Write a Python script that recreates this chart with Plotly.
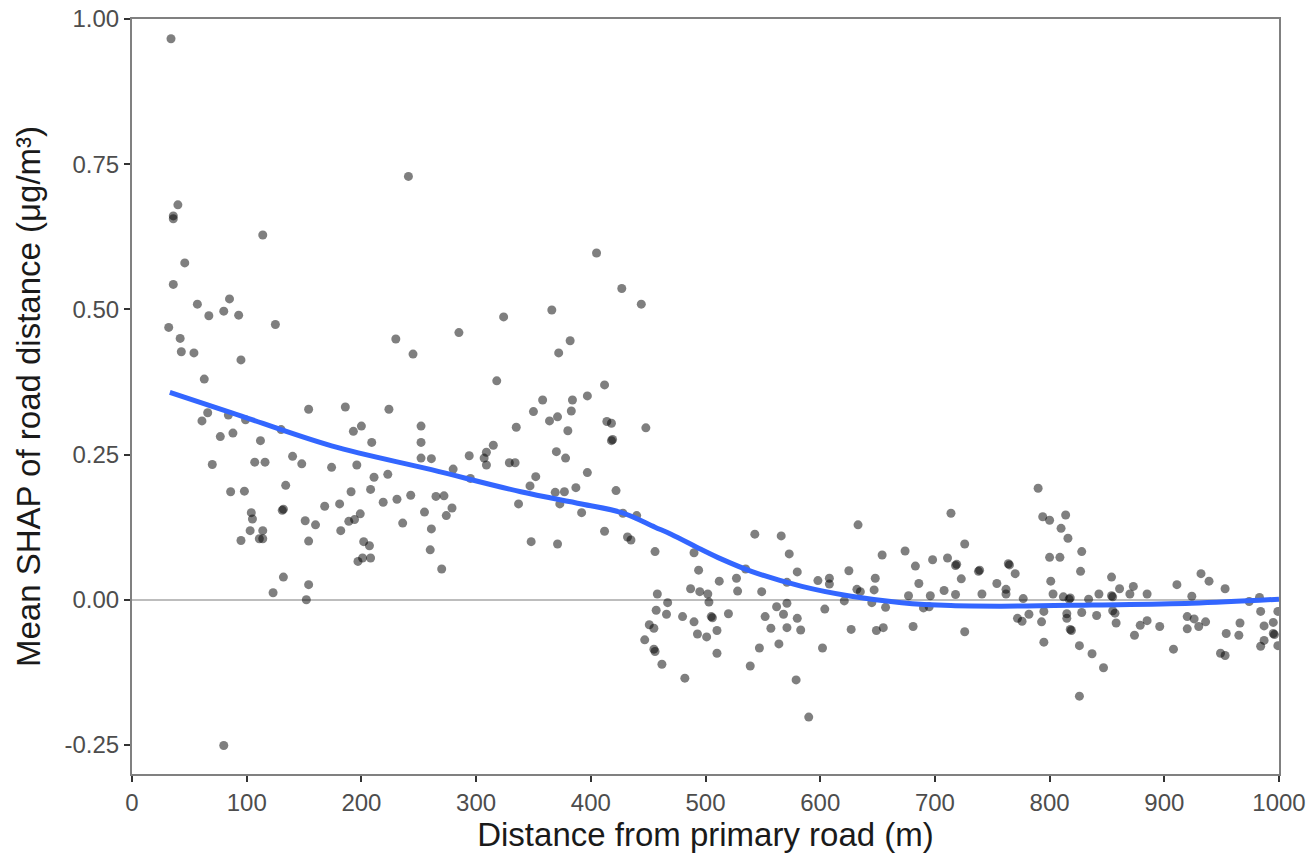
import plotly.graph_objects as go

# Scatter points: distance from primary road (m) and mean SHAP (µg/m³)
distance_m = [
    34, 241, 40, 36, 36, 114, 46, 36, 57, 85, 67, 80, 93, 32, 125, 42, 230, 43, 54, 95,
    245, 63, 66, 61, 84, 99, 154, 186, 224, 77, 88, 112, 130, 193, 200, 209, 252, 252, 252, 261,
    70, 107, 116, 140, 148, 174, 196, 211, 223, 134, 86, 98, 191, 208, 219, 231, 243, 168, 181, 131,
    132, 104, 105, 255, 151, 160, 199, 194, 189, 236, 261, 103, 114, 95, 111, 114, 154, 182, 202, 207,
    208, 197, 201, 260, 132, 123, 154, 152, 80,
    405, 427, 444, 366, 324, 285, 382, 372, 318, 412, 358, 384, 397, 350, 383, 364, 371, 414, 418, 418,
    419, 448, 335, 380, 315, 294, 307, 309, 309, 329, 334, 370, 378, 280, 295, 352, 347, 397, 387, 369,
    377, 373, 422, 265, 272, 279, 274, 337, 392, 428, 440, 412, 432, 435, 348, 371, 456, 490, 270,
    494, 512, 487, 495, 502, 503, 505, 506, 510, 510, 458, 467, 457, 466, 480, 490, 493, 501, 451, 455,
    447, 455, 456, 462, 482,
    527, 528, 520, 543, 566, 573, 535, 580, 549, 571, 562, 571, 552, 568, 580, 557, 571, 583, 547, 564,
    539, 579, 590, 598, 608, 608, 604, 602, 621, 625, 633, 632, 635, 627, 645, 647, 648, 654, 657, 649,
    655, 674, 683, 686, 677, 681, 690, 696, 695, 698, 714, 711, 718, 719, 708, 718, 723, 726, 726, 738,
    739, 741, 754,
    790, 794, 800, 814, 810, 816, 828, 800, 809, 827, 764, 765, 770, 762, 762, 777, 801, 803, 812, 817,
    818, 834, 843, 854, 854, 855, 861, 873, 870, 885, 911, 924, 932, 939, 953, 983, 974, 772, 776, 782,
    795, 793, 795, 815, 815, 818, 819, 828, 841, 826, 837, 847, 826, 855, 857, 858, 874, 879, 885, 896,
    908, 920, 926, 920, 930, 936, 949, 953, 954, 966, 965, 984, 984, 987, 987, 995, 995, 996, 999, 999,
]
mean_shap = [
    0.966, 0.729, 0.680, 0.661, 0.656, 0.628, 0.580, 0.543, 0.509, 0.518, 0.489, 0.497, 0.490, 0.469, 0.474, 0.450, 0.449, 0.427, 0.425, 0.413,
    0.423, 0.380, 0.322, 0.308, 0.318, 0.310, 0.328, 0.332, 0.328, 0.281, 0.287, 0.274, 0.293, 0.290, 0.299, 0.271, 0.299, 0.271, 0.244, 0.243,
    0.233, 0.237, 0.237, 0.247, 0.234, 0.228, 0.232, 0.211, 0.216, 0.197, 0.186, 0.187, 0.186, 0.190, 0.168, 0.173, 0.180, 0.161, 0.165, 0.154,
    0.156, 0.150, 0.139, 0.151, 0.136, 0.129, 0.148, 0.138, 0.135, 0.132, 0.122, 0.119, 0.119, 0.102, 0.105, 0.105, 0.101, 0.119, 0.100, 0.093,
    0.072, 0.066, 0.072, 0.086, 0.039, 0.012, 0.026, 0.000, -0.251,
    0.597, 0.536, 0.509, 0.499, 0.487, 0.460, 0.446, 0.425, 0.377, 0.370, 0.344, 0.344, 0.351, 0.324, 0.325, 0.308, 0.315, 0.307, 0.304, 0.274,
    0.276, 0.296, 0.297, 0.291, 0.266, 0.248, 0.244, 0.254, 0.232, 0.236, 0.236, 0.255, 0.244, 0.225, 0.209, 0.212, 0.196, 0.219, 0.193, 0.185,
    0.186, 0.165, 0.188, 0.178, 0.179, 0.158, 0.145, 0.165, 0.150, 0.149, 0.145, 0.118, 0.108, 0.103, 0.100, 0.096, 0.083, 0.081, 0.053,
    0.051, 0.032, 0.019, 0.014, 0.010, -0.004, -0.029, -0.031, -0.053, -0.092, 0.010, -0.005, -0.018, -0.025, -0.029, -0.038, -0.059, -0.064, -0.043, -0.049,
    -0.069, -0.085, -0.089, -0.111, -0.135,
    0.037, 0.015, -0.024, 0.113, 0.110, 0.079, 0.053, 0.048, 0.014, 0.030, -0.012, -0.006, -0.029, -0.025, -0.032, -0.049, -0.048, -0.052, -0.083, -0.076,
    -0.114, -0.138, -0.202, 0.033, 0.037, 0.027, -0.016, -0.083, -0.002, 0.050, 0.129, 0.018, 0.014, -0.051, -0.005, 0.017, 0.037, 0.077, -0.013, -0.053,
    -0.048, 0.084, 0.058, 0.028, 0.007, -0.046, -0.014, 0.007, -0.012, 0.069, 0.149, 0.072, 0.059, 0.061, 0.016, 0.009, 0.036, 0.096, -0.055, 0.049,
    0.051, 0.010, 0.028,
    0.192, 0.143, 0.137, 0.146, 0.123, 0.106, 0.083, 0.073, 0.073, 0.049, 0.062, 0.060, 0.045, 0.018, 0.010, 0.002, 0.032, 0.010, 0.005, 0.001,
    0.003, 0.001, 0.010, 0.039, 0.007, 0.005, 0.019, 0.023, 0.010, 0.010, 0.026, 0.006, 0.045, 0.032, 0.019, 0.004, -0.003, -0.032, -0.037, -0.025,
    -0.020, -0.038, -0.073, -0.024, -0.032, -0.051, -0.053, -0.022, -0.027, -0.079, -0.093, -0.117, -0.166, -0.019, -0.023, -0.040, -0.061, -0.044, -0.036, -0.046,
    -0.085, -0.029, -0.033, -0.050, -0.046, -0.038, -0.092, -0.096, -0.058, -0.040, -0.061, -0.020, -0.080, -0.045, -0.070, -0.039, -0.058, -0.060, -0.020, -0.079,
]

# Smoothed trend
trend_x = [33, 87, 174, 261, 339, 392, 427, 456, 470, 496, 514, 540, 584, 627, 671, 714, 758, 837, 924, 1000]
trend_y = [0.357, 0.322, 0.265, 0.224, 0.186, 0.165, 0.150, 0.125, 0.113, 0.087, 0.070, 0.049, 0.023, 0.006, -0.005, -0.010, -0.011, -0.009, -0.006, 0.001]

x_ticks = [0, 100, 200, 300, 400, 500, 600, 700, 800, 900, 1000]
y_ticks = [-0.25, 0.00, 0.25, 0.50, 0.75, 1.00]

FONT = "Liberation Sans, Arial, Helvetica, sans-serif"

fig = go.Figure()
fig.add_trace(go.Scatter(
    x=distance_m, y=mean_shap, mode="markers",
    marker=dict(size=9, color="rgba(0,0,0,0.5)", line=dict(width=0)),
    showlegend=False, hoverinfo="x+y",
))
fig.add_trace(go.Scatter(
    x=trend_x, y=trend_y, mode="lines",
    line=dict(color="#3366FF", width=5, shape="spline", smoothing=1.0),
    showlegend=False,
))

axis_common = dict(
    showgrid=False, automargin=False,
    showline=True, linecolor="#808080", linewidth=2, mirror=True,
    ticks="outside", ticklen=6, tickwidth=2, tickcolor="#333333",
    tickfont=dict(family=FONT, size=24, color="#4d4d4d"),
)

fig.update_layout(
    width=1313, height=856,
    paper_bgcolor="white", plot_bgcolor="white",
    margin=dict(l=132, r=34, t=19, b=82),
    font=dict(family=FONT),
    xaxis=dict(
        range=[0, 1000], tickvals=x_ticks, ticktext=[str(v) for v in x_ticks],
        zeroline=False,
        title=dict(text="Distance from primary road (m)",
                   font=dict(family=FONT, size=33, color="#1a1a1a"), standoff=4),
        **axis_common,
    ),
    yaxis=dict(
        range=[-0.3, 1.0], tickvals=y_ticks, ticktext=[f"{v:.2f}" for v in y_ticks],
        zeroline=True, zerolinecolor="#bdbdbd", zerolinewidth=2,
        title=dict(text="Mean SHAP of road distance (μg/m³)",
                   font=dict(family=FONT, size=33, color="#1a1a1a"), standoff=14),
        **axis_common,
    ),
)

# Remove the default page margin so the figure fills the window exactly.
fig.write_html(
    "out.html",
    config={"displayModeBar": False},
    post_script="document.body.style.margin='0';document.body.style.overflow='hidden';",
)
